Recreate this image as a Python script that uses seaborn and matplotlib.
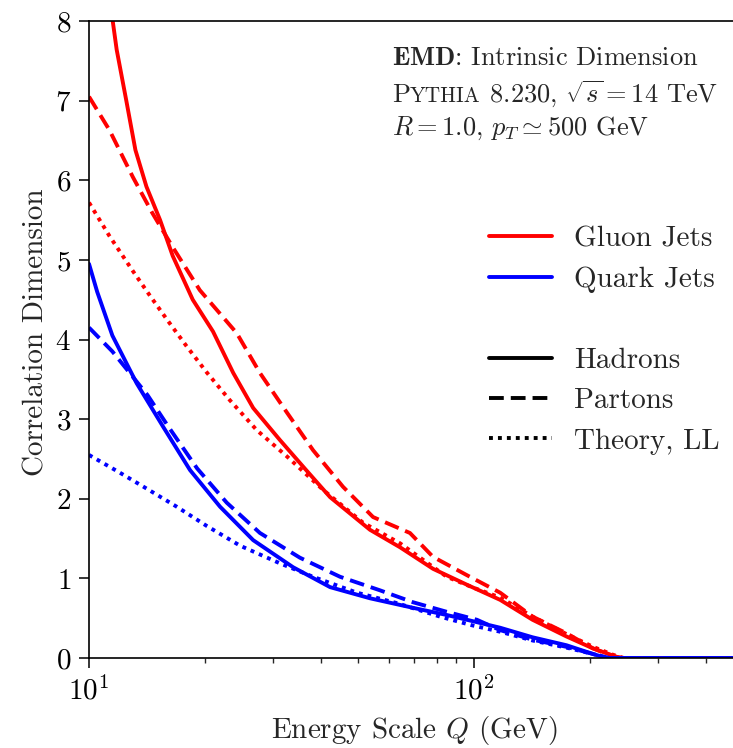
import numpy as np
import pandas as pd
import matplotlib
matplotlib.use("Agg")
import matplotlib.pyplot as plt
import seaborn as sns
from matplotlib.lines import Line2D
from matplotlib.transforms import offset_copy
from matplotlib.ticker import FixedLocator, NullFormatter

# ---------------- data ----------------
gluon_had_q = [11.3, 11.8, 12.5, 13.2, 14.1, 15.3, 16.5, 18.6, 21.0, 23.7, 26.7, 31.3, 36.5,
               42.3, 53.7, 64.3, 78.3, 95.9, 117, 142, 174, 204, 230, 240, 300, 471]
gluon_had_d = [8.3, 7.64, 7.0, 6.38, 5.92, 5.5, 5.05, 4.5, 4.1, 3.58, 3.14, 2.74, 2.37,
               2.02, 1.61, 1.39, 1.12, 0.92, 0.73, 0.48, 0.27, 0.12, 0.03, 0.0, 0.0, 0.0]

gluon_par_q = [10, 11.3, 13.0, 14.6, 16.5, 19.4, 24.2, 27.8, 32.7, 38.2, 45.7, 54.7, 68.2,
               78.3, 95.9, 117, 142, 174, 204, 230, 245, 300, 471]
gluon_par_d = [7.05, 6.63, 6.04, 5.59, 5.16, 4.62, 4.08, 3.58, 3.08, 2.61, 2.15, 1.77, 1.57,
               1.27, 1.04, 0.82, 0.52, 0.31, 0.12, 0.02, 0.0, 0.0, 0.0]

gluon_th_q = [10, 11.3, 13.0, 14.4, 16.0, 17.9, 20.2, 23.2, 27.3, 32.7, 40.6, 51.5, 64.3,
              85, 100, 117, 142, 174, 204, 230, 245, 300, 471]
gluon_th_d = [5.72, 5.30, 4.86, 4.55, 4.24, 3.92, 3.59, 3.24, 2.86, 2.53, 2.11, 1.70, 1.44,
              1.02, 0.88, 0.76, 0.52, 0.30, 0.14, 0.04, 0.0, 0.0, 0.0]

quark_had_q = [10, 10.5, 11.5, 13.3, 15.6, 18.3, 21.9, 26.7, 33.9, 42.3, 53.7, 69.5, 85,
               95.9, 117, 142, 174, 204, 221, 300, 471]
quark_had_d = [4.95, 4.6, 4.05, 3.45, 2.9, 2.36, 1.9, 1.48, 1.14, 0.89, 0.75, 0.63, 0.54,
               0.48, 0.38, 0.26, 0.16, 0.05, 0.0, 0.0, 0.0]

quark_par_q = [10, 11.5, 14.2, 16.0, 19.1, 22.8, 27.8, 35.3, 44.9, 57, 69.5, 85, 101.8,
               117, 142, 174, 204, 225, 300, 471]
quark_par_d = [4.15, 3.85, 3.3, 2.92, 2.38, 1.95, 1.57, 1.26, 1.02, 0.85, 0.70, 0.58, 0.48,
               0.35, 0.23, 0.14, 0.05, 0.0, 0.0, 0.0]

quark_th_q = [10, 12.0, 14.2, 16.9, 20.2, 24.7, 31.3, 38.2, 49.7, 63, 81.6, 99, 117, 142,
              174, 204, 221, 300, 471]
quark_th_d = [2.55, 2.33, 2.12, 1.90, 1.66, 1.41, 1.19, 1.02, 0.82, 0.69, 0.52, 0.41, 0.33,
              0.22, 0.13, 0.05, 0.0, 0.0, 0.0]

jet_labels = ["Gluon Jets", "Quark Jets"]
level_labels = ["Hadrons", "Partons", "Theory, LL"]
y_ticks = [0, 1, 2, 3, 4, 5, 6, 7, 8]

series = [
    ("Gluon Jets", "Hadrons", gluon_had_q, gluon_had_d),
    ("Gluon Jets", "Partons", gluon_par_q, gluon_par_d),
    ("Gluon Jets", "Theory, LL", gluon_th_q, gluon_th_d),
    ("Quark Jets", "Hadrons", quark_had_q, quark_had_d),
    ("Quark Jets", "Partons", quark_par_q, quark_par_d),
    ("Quark Jets", "Theory, LL", quark_th_q, quark_th_d),
]
df = pd.concat([pd.DataFrame({"Q": q, "D": d, "jet": j, "level": l}) for j, l, q, d in series],
               ignore_index=True)

# ---------------- style ----------------
sns.set_style("ticks")
plt.rcParams["font.family"] = ["cmr10", "DejaVu Serif"]
plt.rcParams["mathtext.fontset"] = "cm"
plt.rcParams["axes.formatter.use_mathtext"] = True
plt.rcParams["axes.unicode_minus"] = False

colors = {"Gluon Jets": "#ff0000", "Quark Jets": "#0000ff"}
dash_map = {"Hadrons": "", "Partons": (3.8, 1.8), "Theory, LL": (1.0, 1.3)}
LW = 2.8

fig = plt.figure(figsize=(7.33, 7.48), dpi=100)
ax = fig.add_axes([89 / 733, 90 / 748, 1 - 89 / 733, (658 - 21) / 748])

sns.lineplot(data=df, x="Q", y="D", hue="jet", style="level", palette=colors,
             dashes=dash_map, estimator=None, linewidth=LW, legend=False, ax=ax)

ax.set_xscale("log")
ax.set_xlim(10, 471)
ax.set_ylim(0, 8)
ax.set_yticks(y_ticks)
ax.xaxis.set_major_locator(FixedLocator([10, 100]))
ax.xaxis.set_minor_locator(FixedLocator([20, 30, 40, 50, 60, 70, 80, 90, 200, 300, 400]))
ax.xaxis.set_minor_formatter(NullFormatter())

for s in ["left", "bottom", "top"]:
    ax.spines[s].set_visible(True)
    ax.spines[s].set_linewidth(1.2)
    ax.spines[s].set_color("black")
ax.spines["right"].set_visible(False)

ax.tick_params(which="major", direction="out", length=7, width=1.1, labelsize=21, pad=6,
               colors="black", top=False, right=False)
ax.tick_params(which="minor", direction="out", length=3.5, width=1.0, top=False, right=False)
ax.tick_params(axis="y", which="minor", left=False)

ax.set_xlabel("Energy Scale $Q$ (GeV)", fontsize=21)
ax.set_ylabel("Correlation Dimension", fontsize=21)
ax.xaxis.set_label_coords(0.505, -0.088)
ax.yaxis.set_label_coords(-0.062, 0.512)

# ---------------- legend ----------------
handles = [
    Line2D([], [], color=colors["Gluon Jets"], lw=LW),
    Line2D([], [], color=colors["Quark Jets"], lw=LW),
    Line2D([], [], color="none", lw=0),
    Line2D([], [], color="black", lw=LW),
    Line2D([], [], color="black", lw=LW, dashes=dash_map["Partons"]),
    Line2D([], [], color="black", lw=LW, dashes=dash_map["Theory, LL"]),
]
labels = [jet_labels[0], jet_labels[1], "", level_labels[0], level_labels[1], level_labels[2]]
ax.legend(handles, labels, loc="upper left", bbox_to_anchor=(0.621, 0.678), frameon=False,
          fontsize=21, handlelength=2.16, handletextpad=0.75, labelspacing=0.48,
          borderpad=0, borderaxespad=0)

# ---------------- annotation ----------------
tx = 0.4705
fs = 19
ax.text(tx, 0.931, r"$\mathbf{EMD}$: Intrinsic Dimension", transform=ax.transAxes,
        fontsize=fs, va="baseline", ha="left")
fig.canvas.draw()
renderer = fig.canvas.get_renderer()
t1 = ax.text(tx, 0.873, "P", transform=ax.transAxes, fontsize=fs, va="baseline", ha="left")
w1 = t1.get_window_extent(renderer).width
t2 = ax.text(tx, 0.873, "YTHIA", transform=offset_copy(ax.transAxes, fig, x=w1, y=0, units="dots"),
             fontsize=fs * 0.8, va="baseline", ha="left")
w2 = t2.get_window_extent(renderer).width
ax.text(tx, 0.873, r" 8.230, $\sqrt{s} = 14$ TeV",
        transform=offset_copy(ax.transAxes, fig, x=w1 + w2, y=0, units="dots"),
        fontsize=fs, va="baseline", ha="left")
ax.text(tx, 0.821, r"$R = 1.0$, $p_T \simeq 500$ GeV", transform=ax.transAxes,
        fontsize=fs, va="baseline", ha="left")

fig.savefig("out.png", dpi=100)
